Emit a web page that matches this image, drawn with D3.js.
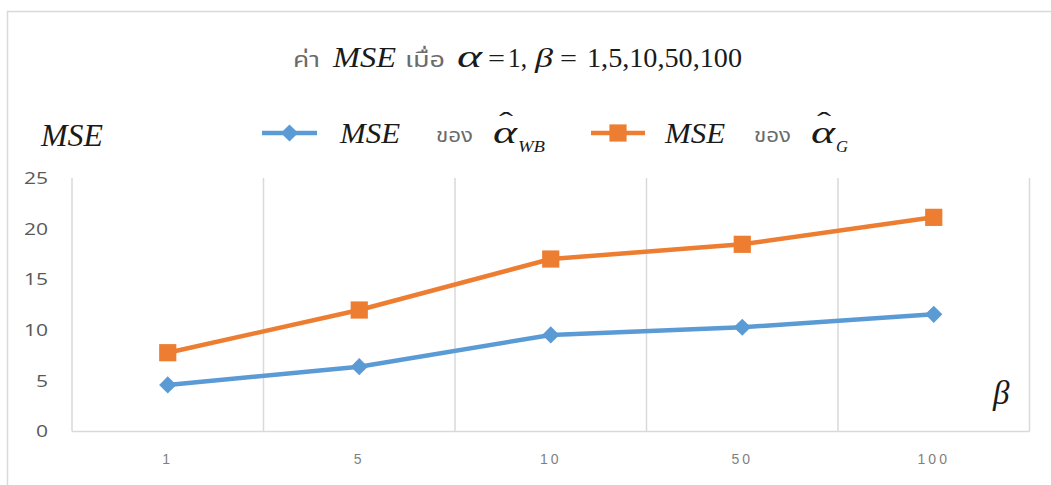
<!DOCTYPE html>
<html>
<head>
<meta charset="utf-8">
<script src="https://cdn.jsdelivr.net/npm/d3@7"></script>
<style>
  html, body { margin: 0; padding: 0; background: #fff; }
  svg { display: block; }
</style>
</head>
<body>
<svg id="chart" width="1051" height="485"></svg>
<script>
// β values on the category axis
const categories = ["1", "5", "10", "50", "100"];
// MSE of the weighted-Bayes estimator of α
const mseWB = [4.59, 6.39, 9.52, 10.28, 11.56];
// MSE of the G estimator of α
const mseG = [7.77, 11.98, 17.01, 18.46, 21.12];
// y-axis tick values
const yTicks = [0, 5, 10, 15, 20, 25];

const BLUE = "#5b9bd5";
const ORANGE = "#ed7d31";
const GRID = "#d9d9d9";
const THAI = "'Noto Sans Thai', 'Noto Sans Thai UI', Tahoma, 'Noto Sans', sans-serif";
const MATH = "'Liberation Serif', 'DejaVu Serif', serif";

const svg = d3.select("#chart");

const x = d3.scaleBand().domain(categories).range([72, 1029.5]).paddingInner(0).paddingOuter(0);
const y = d3.scaleLinear().domain([0, 25]).range([431.5, 178]);

// outer frame (top and left edges)
svg.append("path")
  .attr("d", "M7.5,485 V11.5 H1051")
  .attr("fill", "none").attr("stroke", GRID).attr("stroke-width", 1.5);

// vertical category gridlines at band boundaries
const edges = d3.range(categories.length + 1).map(i => x.range()[0] + i * x.step());
svg.append("g").selectAll("line").data(edges).join("line")
  .attr("x1", d => d).attr("x2", d => d)
  .attr("y1", y(25)).attr("y2", y(0))
  .attr("stroke", GRID).attr("stroke-width", 1.5);

// x axis baseline
svg.append("line")
  .attr("x1", x.range()[0]).attr("x2", x.range()[1])
  .attr("y1", y(0)).attr("y2", y(0))
  .attr("stroke", GRID).attr("stroke-width", 1.5);

// y axis tick labels
const yStretch = 1.24;
const yAxis = svg.append("g")
  .attr("transform", `translate(${x.range()[0]},0)`)
  .call(d3.axisLeft(y).tickValues(yTicks).tickSize(0).tickPadding(24 / yStretch));
yAxis.select(".domain").remove();
yAxis.selectAll("text")
  .attr("font-family", "'Open Sans', 'Liberation Sans', sans-serif")
  .attr("font-size", 17)
  .attr("fill", "#595959")
  .attr("transform", `scale(${yStretch},1)`);

// x axis tick labels
const xAxis = svg.append("g")
  .attr("transform", `translate(0,${y(0)})`)
  .call(d3.axisBottom(x).tickSize(0).tickPadding(23));
xAxis.select(".domain").remove();
xAxis.selectAll("text")
  .attr("font-family", "'Liberation Sans', sans-serif")
  .attr("font-size", 14)
  .attr("letter-spacing", "3px")
  .attr("fill", "#7f7f7f");

// series lines and markers
const cx = d => x(d) + x.bandwidth() / 2;
const line = d3.line().x(d => cx(d.c)).y(d => y(d.v));
const diamond = s => `M0,${-s}L${s},0L0,${s}L${-s},0Z`;
const square = s => `M${-s},${-s}H${s}V${s}H${-s}Z`;

const series = [
  { values: mseWB, color: BLUE, marker: diamond(8.6) },
  { values: mseG, color: ORANGE, marker: square(8.6) }
];

series.forEach(s => {
  const pts = categories.map((c, i) => ({ c, v: s.values[i] }));
  svg.append("path").datum(pts)
    .attr("d", line)
    .attr("fill", "none")
    .attr("stroke", s.color)
    .attr("stroke-width", 4.5)
    .attr("stroke-linejoin", "round");
  svg.append("g").selectAll("path").data(pts).join("path")
    .attr("d", s.marker)
    .attr("transform", d => `translate(${cx(d.c)},${y(d.v)})`)
    .attr("fill", s.color);
});

// text helper
function put(str, px, py, o = {}) {
  const t = svg.append("text")
    .attr("x", px).attr("y", py)
    .attr("font-family", o.family || MATH)
    .attr("font-size", o.size || 30)
    .attr("font-style", o.italic ? "italic" : "normal")
    .attr("fill", o.fill || "#1a1a1a")
    .text(str);
  if (o.len) t.attr("textLength", o.len).attr("lengthAdjust", "spacingAndGlyphs");
  return t;
}

// title: ค่า MSE เมื่อ α = 1, β = 1,5,10,50,100
put("ค่า", 293, 67, { family: THAI, size: 21, fill: "#6b6b6b", len: 27 });
put("MSE", 333, 67, { italic: true, size: 29, len: 63 });
put("เมื่อ", 405, 67, { family: THAI, size: 21, fill: "#6b6b6b", len: 40 });
put("α", 457, 67, { italic: true, size: 31, len: 25 });
put("=", 488, 67, { size: 26, len: 17 });
put("1,", 508, 67, { size: 27, len: 19 });
put("β", 535, 67, { italic: true, size: 28, len: 18 });
put("=", 560, 67, { size: 26, len: 17 });
put("1,5,10,50,100", 587, 67, { size: 27, len: 155 });

// legend
const legend = [
  { x0: 262, x1: 317, color: BLUE, marker: diamond(8.6), mse: 340, kh: 436, a: 493, sub: "WB", subLen: 27 },
  { x0: 591, x1: 645, color: ORANGE, marker: square(8.6), mse: 665, kh: 754, a: 811, sub: "G", subLen: 12 }
];
const ly = 133;
legend.forEach(l => {
  svg.append("line")
    .attr("x1", l.x0).attr("x2", l.x1).attr("y1", ly).attr("y2", ly)
    .attr("stroke", l.color).attr("stroke-width", 4.5);
  svg.append("path").attr("d", l.marker)
    .attr("transform", `translate(${(l.x0 + l.x1) / 2},${ly})`)
    .attr("fill", l.color);
  put("MSE", l.mse, 143, { italic: true, size: 29, len: 60 });
  put("ของ", l.kh, 142, { family: THAI, size: 20, fill: "#6b6b6b", len: 37 });
  // estimator symbol: α with a hat and a subscript, kept in one text element
  const t = svg.append("text")
    .attr("font-family", MATH)
    .attr("fill", "#1a1a1a");
  t.append("tspan").attr("x", l.a).attr("y", 143)
    .attr("font-size", 32).attr("font-style", "italic")
    .attr("textLength", 24).attr("lengthAdjust", "spacingAndGlyphs").text("α");
  t.append("tspan").attr("x", l.a + 6).attr("y", 131)
    .attr("font-size", 28)
    .attr("textLength", 14).attr("lengthAdjust", "spacingAndGlyphs").text("ˆ");
  t.append("tspan").attr("x", l.a + 25).attr("y", 152)
    .attr("font-size", 17).attr("font-style", "italic")
    .attr("textLength", l.subLen).attr("lengthAdjust", "spacingAndGlyphs").text(l.sub);
});

// axis titles
put("MSE", 41, 146, { italic: true, size: 31, len: 62 });
put("β", 993, 404, { italic: true, size: 33 });
</script>
</body>
</html>
